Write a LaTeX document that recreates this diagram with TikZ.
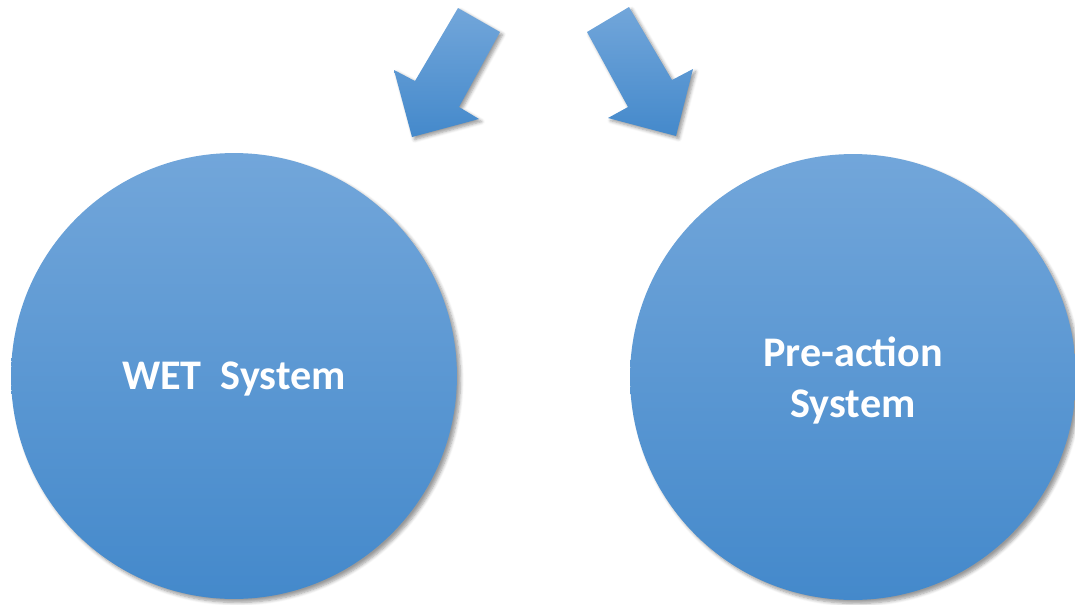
\documentclass[tikz,border=0pt]{standalone}
\usepackage{fontspec}
\setmainfont{Carlito}
\usepackage{tikz}
\usetikzlibrary{shadows.blur}
\definecolor{bluetop}{RGB}{114,166,218}
\definecolor{bluebot}{RGB}{68,137,203}

\begin{document}
\begin{tikzpicture}
  [x=0.02cm,y=-0.02cm,
   system/.style={circle,top color=bluetop,bottom color=bluebot,
                  minimum size=8.92cm,inner sep=0,outer sep=0,align=center,
                  text depth=0pt,
                  text=white,font=\bfseries\fontsize{24}{29}\selectfont,
                  blur shadow={shadow xshift=2pt,shadow yshift=-2pt,
                               shadow blur steps=6,shadow opacity=40}},
   bigarrow/.style={top color=bluetop,bottom color=bluebot,
                    blur shadow={shadow xshift=1.5pt,shadow yshift=-1.5pt,
                                 shadow blur steps=5,shadow opacity=40}}]
  \useasboundingbox (0,0) rectangle (1075,605);
  \node[system] (wet) at (234,376) {WET~~System};
  \node[system] (preaction) at (853,377) {Pre-action\\System};
  % block arrows above the two systems
  \path[bigarrow] (458,8) -- (500,32) -- (459,107) -- (479,119)
    -- (412,137) -- (394,70) -- (415,81) -- cycle;
  \path[bigarrow] (587,32) -- (629,7) -- (672,80) -- (693,69)
    -- (676,136) -- (608,118) -- (628,107) -- cycle;
\end{tikzpicture}
\end{document}
